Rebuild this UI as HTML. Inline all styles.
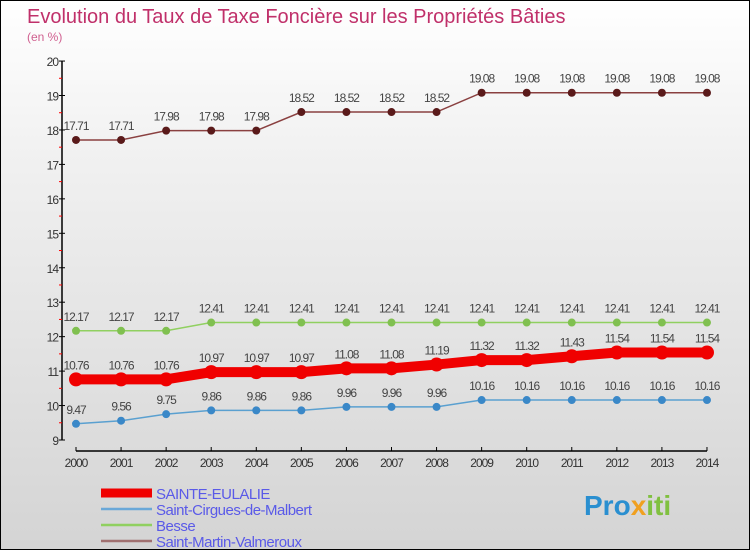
<!DOCTYPE html>
<html><head><meta charset="utf-8"><style>
body{margin:0}
#c{width:748px;height:548px;border:1px solid #000;background:linear-gradient(#ffffff,#f0f0f0 30%,#d4d4d4);position:relative;overflow:hidden;font-family:"Liberation Sans",sans-serif}
</style></head><body>
<div id="c">
<svg id="s" width="748" height="548" xmlns="http://www.w3.org/2000/svg">
<text x="26" y="22" font-size="20" fill="#c0306a">Evolution du Taux de Taxe Foncière sur les Propriétés Bâties</text>
<text x="26" y="40" font-size="12" fill="#d06090">(en %)</text>
<g id="g"></g>
<text x="583" y="514" font-size="28" font-weight="bold" fill="#2a8fd0">Pro<tspan fill="#f0a020">x</tspan><tspan fill="#80c040">iti</tspan></text>
</svg>
</div>
<script>
const years=[2000,2001,2002,2003,2004,2005,2006,2007,2008,2009,2010,2011,2012,2013,2014];
const sainteEulalie=[10.76,10.76,10.76,10.97,10.97,10.97,11.08,11.08,11.19,11.32,11.32,11.43,11.54,11.54,11.54];
const saintCirgues=[9.47,9.56,9.75,9.86,9.86,9.86,9.96,9.96,9.96,10.16,10.16,10.16,10.16,10.16,10.16];
const besse=[12.17,12.17,12.17,12.41,12.41,12.41,12.41,12.41,12.41,12.41,12.41,12.41,12.41,12.41,12.41];
const saintMartin=[17.71,17.71,17.98,17.98,17.98,18.52,18.52,18.52,18.52,19.08,19.08,19.08,19.08,19.08,19.08];
const yTicks=[9,10,11,12,13,14,15,16,17,18,19,20];
const seriesNames=["SAINTE-EULALIE","Saint-Cirgues-de-Malbert","Besse","Saint-Martin-Valmeroux"];
const NS="http://www.w3.org/2000/svg";
const g=document.getElementById('g');
const X=i=>75+i*45.07, Y=v=>439-(v-9)*34.45;
function el(t,a,p){const e=document.createElementNS(NS,t);for(const k in a)e.setAttribute(k,a[k]);(p||g).appendChild(e);return e;}
let e;
e=el('line',{x1:61,y1:Y(20),x2:61,y2:Y(9),stroke:'#000','stroke-width':1.5});


e=el('line',{x1:75,y1:450,x2:X(14),y2:450,stroke:'#000','stroke-width':1.5});


yTicks.forEach(v=>{
 el('line',{x1:58,y1:Y(v),x2:64,y2:Y(v),stroke:'#000'});
 if(v<20)el('line',{x1:58,y1:Y(v+0.5),x2:61,y2:Y(v+0.5),stroke:'#f00'});
 e=el('text',{x:57,y:Y(v)+5,'font-size':12,'text-anchor':'end',fill:'#333','letter-spacing':'-1'});
 e.textContent=v;
 
 
});
years.forEach((y,i)=>{
 el('line',{x1:X(i),y1:446,x2:X(i),y2:450,stroke:'#000'});
 e=el('text',{x:X(i),y:466,'font-size':12,'text-anchor':'middle',fill:'#333','letter-spacing':'-1'});
 e.textContent=y;
 
 
});
function series(vals,color,dot,w,r,name){
 const pts=vals.map((v,i)=>X(i)+','+Y(v)).join(' ');
 e=el('polyline',{points:pts,fill:'none',stroke:color,'stroke-width':w});
 
 
 vals.forEach((v,i)=>{
  e=el('circle',{cx:X(i),cy:Y(v),r:r,fill:dot});
  
  
  e=el('text',{x:X(i),y:Y(v)-10,'font-size':12,'text-anchor':'middle',fill:'#444','letter-spacing':'-1'});
  e.textContent=v.toString();
  
  
 });
}
series(saintMartin,'#8a4040','#5a1a1a',1.5,4,'saint-martin');
series(besse,'#90d060','#80c050',1.5,4,'besse');
series(saintCirgues,'#5aa0d0','#3a88c8',1.5,4,'saint-cirgues');
series(sainteEulalie,'#f00000','#f00000',10,7,'sainte-eulalie');
const legColors=['#f00000','#6aa8d8','#90d060','#a07070'],legW=[9,2.5,2.5,2.5];
seriesNames.forEach((n,i)=>{
 const y=492+i*16;
 e=el('line',{x1:100,y1:y,x2:151,y2:y,stroke:legColors[i],'stroke-width':legW[i]});
 
 
 e=el('text',{x:155,y:y+6,'font-size':15,fill:'#5a5ae8','letter-spacing':'-0.5'});
 e.textContent=n;
 
 
});
</script>
</body></html>
